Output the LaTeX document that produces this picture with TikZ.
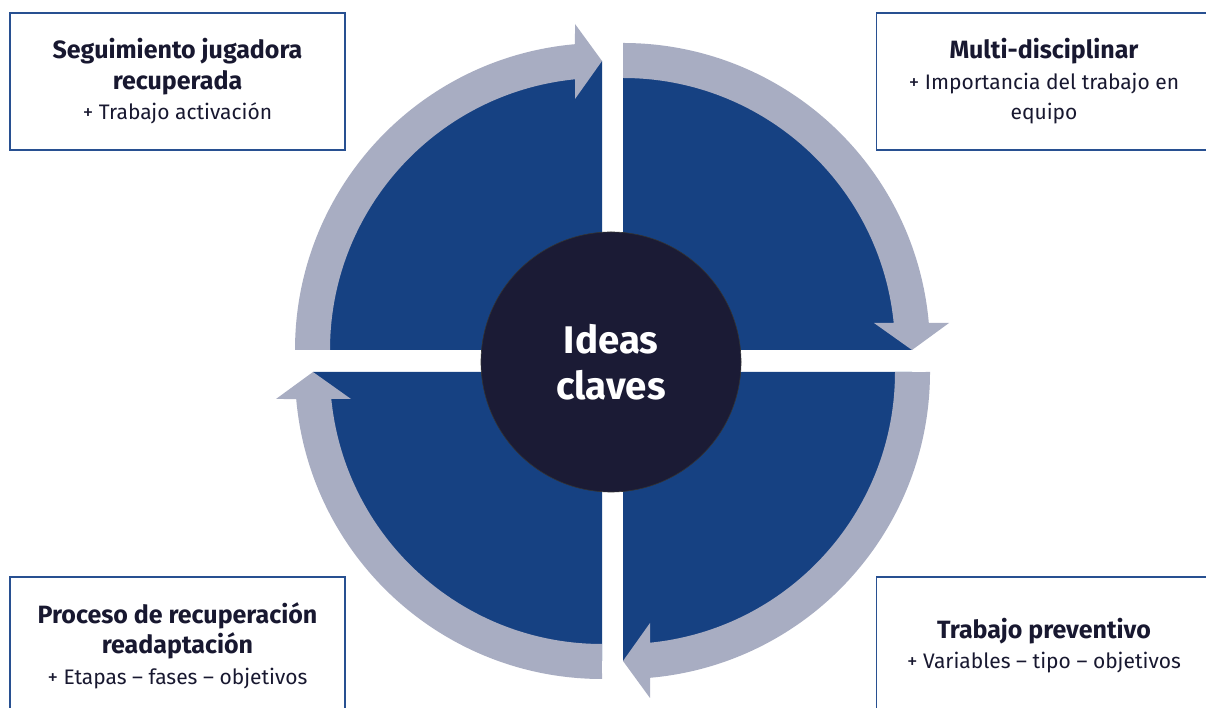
\documentclass[tikz,border=0pt]{standalone}
\usepackage{fontspec}
\setmainfont{Fira Sans}
\definecolor{qblue}{RGB}{22,65,130}
\definecolor{bandgray}{RGB}{168,173,194}
\definecolor{boxblue}{RGB}{40,80,145}
\definecolor{inkdark}{RGB}{24,24,48}
\definecolor{hubfill}{RGB}{27,27,53}
% one quadrant: blue quarter disc and the curved arrow that runs round it
% #1 = inner corner, #2 = rotation
\newcommand\cyclequadrant[2]{%
  \begin{scope}[shift={#1}, rotate=#2]
    \fill[qblue] (0,0) -- (-289,0) arc (180:90:289) -- cycle;
    \fill[bandgray] (-307,0) arc (180:95.05:307) -- (-27,326) -- (0,289)
      -- (-27,251) -- (-27,270.7) arc (95.7:180:272) -- cycle;
  \end{scope}}
\newcommand\boxhead[1]{{\bfseries\fontsize{25}{30.5}\selectfont #1}}
\begin{document}
\begin{tikzpicture}[x=1pt,y=1pt,
  infobox/.style={draw=boxblue, line width=1.8pt, fill=white,
    minimum width=335, minimum height=137, align=center, text=inkdark,
    font=\fontsize{21}{30.5}\selectfont, inner sep=0pt},
  hub/.style={circle, fill=hubfill, draw=black!80, line width=0.6pt,
    minimum size=260, text=white, align=center,
    font=\fontsize{38.5}{46}\selectfont\bfseries}]
\useasboundingbox (0,0) rectangle (1206,708);
\fill[white] (0,0) rectangle (1206,708);

% four quadrants, clockwise
\cyclequadrant{(602,358)}{0}
\cyclequadrant{(623,358)}{-90}
\cyclequadrant{(623,336)}{-180}
\cyclequadrant{(602,336)}{90}

% centre
\node[hub] (hub) at (611,346) {Ideas\\claves};

% text boxes
\node[infobox] (seguimiento) at (177.5,626.5)
  {\boxhead{Seguimiento jugadora}\\
   \boxhead{recuperada}\\
   + Trabajo activación};
\node[infobox] (multi) at (1044,626.5)
  {\boxhead{Multi-disciplinar}\\
   + Importancia del trabajo en\\ equipo};
\node[infobox] (proceso) at (177.5,62.5)
  {\boxhead{Proceso de recuperación}\\
   \boxhead{readaptación}\\
   + Etapas – fases – objetivos};
\node[infobox] (preventivo) at (1044,62.5)
  {\boxhead{Trabajo preventivo}\\
   + Variables – tipo – objetivos};
\end{tikzpicture}
\end{document}
